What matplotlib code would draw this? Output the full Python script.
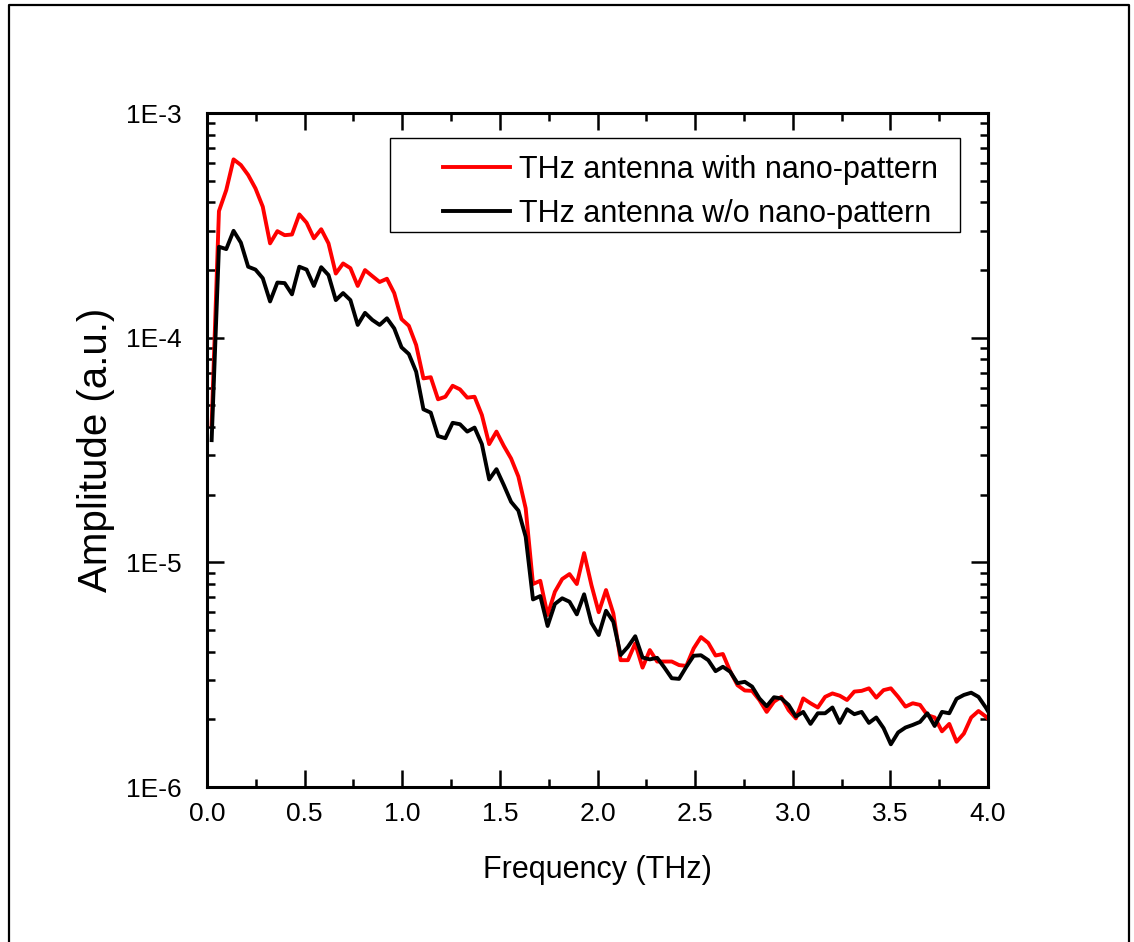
import matplotlib
matplotlib.use("Agg")
import matplotlib.pyplot as plt
from matplotlib.ticker import MultipleLocator, LogLocator, NullFormatter
from matplotlib.lines import Line2D
from matplotlib.patches import Rectangle
import numpy as np

# sampled spectrum (THz), first bin at 0.024 THz, bin width 0.0374 THz
f_start = 0.024
f_step = 0.0374

amp_nano = [
    4.1e-5, 3.66e-4, 4.54e-4, 6.22e-4, 5.87e-4, 5.30e-4, 4.62e-4, 3.83e-4, 2.63e-4, 2.98e-4,
    2.86e-4, 2.88e-4, 3.54e-4, 3.25e-4, 2.77e-4, 3.04e-4, 2.63e-4, 1.93e-4, 2.14e-4, 2.04e-4,
    1.70e-4, 2.00e-4, 1.88e-4, 1.77e-4, 1.83e-4, 1.58e-4, 1.21e-4, 1.13e-4, 9.28e-5, 6.59e-5,
    6.67e-5, 5.32e-5, 5.46e-5, 6.11e-5, 5.89e-5, 5.41e-5, 5.46e-5, 4.53e-5, 3.36e-5, 3.82e-5,
    3.30e-5, 2.90e-5, 2.41e-5, 1.74e-5, 8.01e-6, 8.28e-6, 5.83e-6, 7.40e-6, 8.43e-6, 8.87e-6,
    8.01e-6, 1.10e-5, 7.93e-6, 6.00e-6, 7.53e-6, 5.93e-6, 3.67e-6, 3.67e-6, 4.36e-6, 3.40e-6,
    4.07e-6, 3.62e-6, 3.62e-6, 3.62e-6, 3.49e-6, 3.46e-6, 4.14e-6, 4.65e-6, 4.38e-6, 3.85e-6,
    3.91e-6, 3.28e-6, 2.84e-6, 2.69e-6, 2.68e-6, 2.44e-6, 2.16e-6, 2.40e-6, 2.52e-6, 2.20e-6,
    2.02e-6, 2.48e-6, 2.36e-6, 2.26e-6, 2.52e-6, 2.61e-6, 2.55e-6, 2.44e-6, 2.66e-6, 2.68e-6,
    2.75e-6, 2.50e-6, 2.70e-6, 2.75e-6, 2.52e-6, 2.28e-6, 2.36e-6, 2.32e-6, 2.09e-6, 2.04e-6,
    1.77e-6, 1.91e-6, 1.59e-6, 1.73e-6, 2.04e-6, 2.18e-6, 2.06e-6, 1.91e-6,
]

amp_plain = [
    3.5e-5, 2.54e-4, 2.48e-4, 2.99e-4, 2.65e-4, 2.07e-4, 2.01e-4, 1.84e-4, 1.45e-4, 1.76e-4,
    1.75e-4, 1.56e-4, 2.07e-4, 2.01e-4, 1.70e-4, 2.06e-4, 1.90e-4, 1.47e-4, 1.58e-4, 1.47e-4,
    1.14e-4, 1.29e-4, 1.20e-4, 1.14e-4, 1.22e-4, 1.10e-4, 9.06e-5, 8.46e-5, 7.06e-5, 4.80e-5,
    4.64e-5, 3.65e-5, 3.57e-5, 4.18e-5, 4.12e-5, 3.82e-5, 3.98e-5, 3.36e-5, 2.34e-5, 2.60e-5,
    2.21e-5, 1.86e-5, 1.70e-5, 1.30e-5, 6.84e-6, 7.08e-6, 5.21e-6, 6.53e-6, 6.92e-6, 6.68e-6,
    5.87e-6, 7.21e-6, 5.38e-6, 4.75e-6, 6.09e-6, 5.44e-6, 3.87e-6, 4.21e-6, 4.69e-6, 3.77e-6,
    3.70e-6, 3.76e-6, 3.40e-6, 3.05e-6, 3.03e-6, 3.43e-6, 3.84e-6, 3.86e-6, 3.67e-6, 3.28e-6,
    3.43e-6, 3.26e-6, 2.90e-6, 2.94e-6, 2.80e-6, 2.48e-6, 2.29e-6, 2.51e-6, 2.48e-6, 2.32e-6,
    2.06e-6, 2.16e-6, 1.91e-6, 2.13e-6, 2.13e-6, 2.26e-6, 1.93e-6, 2.22e-6, 2.11e-6, 2.16e-6,
    1.93e-6, 2.04e-6, 1.83e-6, 1.55e-6, 1.75e-6, 1.84e-6, 1.89e-6, 1.95e-6, 2.13e-6, 1.87e-6,
    2.16e-6, 2.13e-6, 2.47e-6, 2.57e-6, 2.63e-6, 2.52e-6, 2.26e-6, 1.99e-6,
]

labels = ["THz antenna with nano-pattern", "THz antenna w/o nano-pattern"]
x_ticks = [0.0, 0.5, 1.0, 1.5, 2.0, 2.5, 3.0, 3.5, 4.0]
y_ticks = [1e-6, 1e-5, 1e-4, 1e-3]
y_tick_labels = ["1E-6", "1E-5", "1E-4", "1E-3"]

freq = f_start + f_step * np.arange(len(amp_nano))

plt.rcParams["font.family"] = ["Liberation Sans", "DejaVu Sans"]

fig = plt.figure(figsize=(11.34, 9.42), dpi=100)
ax = fig.add_axes([0.1825, 0.1645, 0.6888, 0.7155])

ax.plot(freq, amp_nano, color="#ff0000", lw=2.8, label=labels[0])
ax.plot(freq, amp_plain, color="black", lw=2.8, label=labels[1])

ax.set_yscale("log")
ax.set_xlim(0, 4.0)
ax.set_ylim(1e-6, 1e-3)

ax.set_xticks(x_ticks)
ax.set_xticklabels(["%.1f" % v for v in x_ticks])
ax.xaxis.set_minor_locator(MultipleLocator(0.25))
ax.set_yticks(y_ticks)
ax.set_yticklabels(y_tick_labels)
ax.yaxis.set_minor_locator(LogLocator(base=10, subs=np.arange(2, 10)))
ax.yaxis.set_minor_formatter(NullFormatter())

ax.tick_params(which="both", direction="in", top=True, right=True, width=1.8)
ax.tick_params(which="major", length=12, labelsize=19)
ax.tick_params(axis="x", which="major", pad=11)
ax.tick_params(axis="y", which="major", pad=18)
ax.tick_params(which="minor", length=6)
for s in ax.spines.values():
    s.set_linewidth(2.2)

ax.set_xlabel("Frequency (THz)", fontsize=22, labelpad=21)
ax.set_ylabel("Amplitude (a.u.)", fontsize=29, labelpad=8)

# legend box drawn separately so the inner padding matches the original
ax.add_patch(Rectangle((0.234, 0.823), 0.730, 0.140, transform=ax.transAxes,
                       facecolor="white", edgecolor="black", lw=1.0, zorder=4))
leg = ax.legend(loc="upper left", bbox_to_anchor=(0.302, 0.938),
                borderaxespad=0, borderpad=0, fontsize=22, handlelength=2.2,
                handletextpad=0.3, labelspacing=0.45, frameon=False)
leg.set_zorder(5)

# outer frame of the original figure
fx0, fx1, fy1 = 9 / 1134, 1129 / 1134, 1 - 5 / 942
fig.add_artist(Line2D([fx0, fx0, fx1, fx1], [0, fy1, fy1, 0],
                      transform=fig.transFigure, color="black", lw=1.6))

fig.savefig("out.png", dpi=100)
